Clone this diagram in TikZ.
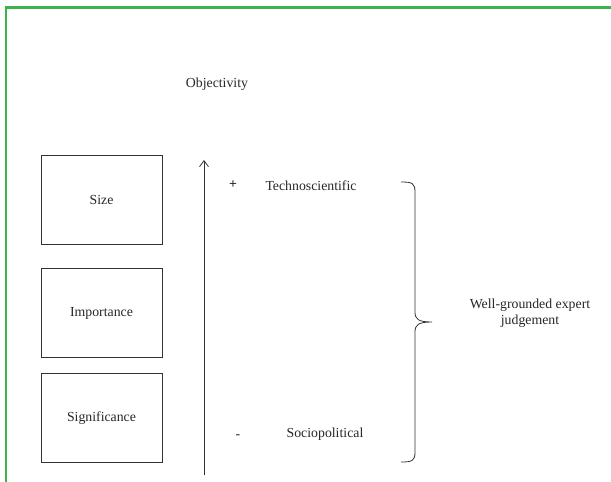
\documentclass[tikz,border=0pt]{standalone}
\usepackage{fontspec}
\setmainfont{Liberation Serif}
\usetikzlibrary{arrows.meta}
\definecolor{frame}{HTML}{3BB54A}
\begin{document}
\begin{tikzpicture}[x=1pt,y=-1pt,
  every node/.style={font=\fontsize{13.8}{15.5}\selectfont, text=black!85},
  factor/.style={draw=black!80, line width=0.8pt, minimum width=121pt, minimum height=89pt, inner sep=0pt},
  label/.style={inner sep=0pt},
  line/.style={draw=black!80, line width=0.8pt}]
\useasboundingbox (0,0) rectangle (611,482);
% frame on top and left
\draw[frame, line width=3.2pt] (5,7.5) -- (611,7.5);
\draw[frame, line width=2.4pt] (6,6) -- (6,482);

% the three factor boxes
\node[factor] (size) at (101.5,199.5) {Size};
\node[factor] (imp)  at (101.5,313) {Importance};
\node[factor] (sig)  at (101.5,418) {Significance};

% objectivity axis
\node[label] (obj) at (217,84) {Objectivity};
\coordinate (axbot) at (204,475);
\coordinate (axtop) at (204,160);
\draw[line, -{Straight Barb[length=6pt,width=9pt]}] (axbot) -- (axtop);

\node[label] (plus)  at (233,185) {\textbf{+}};
\node[label] (minus) at (238,437) {-};
\node[label] (tech)  at (311,186) {Technoscientific};
\node[label] (socio) at (325,434) {Sociopolitical};

% brace spanning the scale
\coordinate (btop) at (401,182);
\coordinate (bmid) at (432,322);
\coordinate (bbot) at (401,462);
\draw[line] (btop) .. controls (412,182) and (415,183) .. (415,192)
  -- (415,312) .. controls (415,319) and (418,322) .. (bmid)
  (bmid) .. controls (418,322) and (415,325) .. (415,332)
  -- (415,452) .. controls (415,461) and (412,462) .. (bbot);

\node[label, align=center] (judge) at (530,313) {Well-grounded expert\\judgement};
\end{tikzpicture}
\end{document}
